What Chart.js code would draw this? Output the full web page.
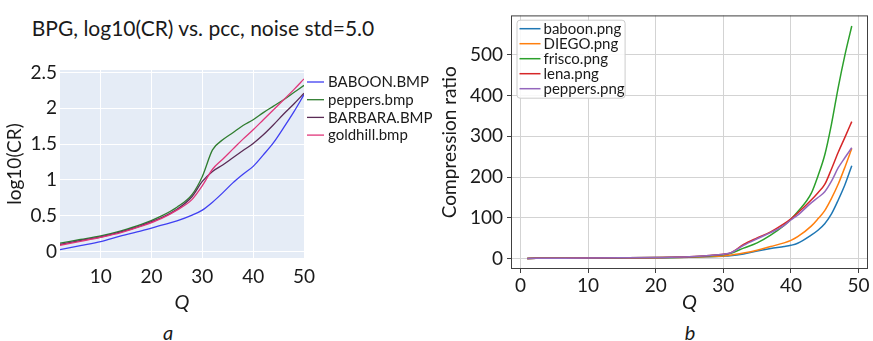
<!DOCTYPE html>
<html>
<head>
<meta charset="utf-8">
<script src="https://cdn.jsdelivr.net/npm/chart.js@4.4.1/dist/chart.umd.min.js"></script>
<style>
  html, body { margin: 0; padding: 0; background: #fff; }
  body { width: 873px; height: 341px; position: relative; overflow: hidden; font-family: Lato, sans-serif; color: #1a1a1a; }
  canvas { position: absolute; top: 0; }
  #left { left: 0; }
  #right { left: 440px; }
  .txt { position: absolute; white-space: nowrap; text-align: center; }
  #title { left: 0; width: 406px; top: 16px; font-size: 21px; line-height: 24px; }
  .cap { top: 320px; width: 40px; font-size: 20px; line-height: 24px; font-style: italic; }
  #capA { left: 148px; }
  #capB { left: 670px; }
</style>
</head>
<body>
<div id="title" class="txt">BPG, log10(CR) vs. pcc, noise std=5.0</div>
<canvas id="left" width="440" height="320"></canvas>
<canvas id="right" width="433" height="320"></canvas>
<div id="capA" class="txt cap">a</div>
<div id="capB" class="txt cap">b</div>
<script>
// (a) BPG, log10(CR) against Q
const qA = [2, 6, 10, 14, 18, 22, 25, 28, 30, 32, 34, 36, 38, 40, 42, 44, 46, 48, 50];
const baboonBmp = [0.03, 0.085, 0.14, 0.22, 0.29, 0.37, 0.43, 0.51, 0.58, 0.69, 0.82, 0.96, 1.08, 1.19, 1.35, 1.52, 1.73, 1.95, 2.19];
const peppersBmp = [0.12, 0.17, 0.22, 0.29, 0.38, 0.50, 0.62, 0.80, 1.05, 1.42, 1.56, 1.66, 1.76, 1.84, 1.94, 2.03, 2.12, 2.22, 2.32];
const barbaraBmp = [0.10, 0.155, 0.205, 0.275, 0.365, 0.475, 0.59, 0.77, 0.98, 1.12, 1.21, 1.31, 1.41, 1.51, 1.63, 1.77, 1.92, 2.06, 2.21];
const goldhillBmp = [0.09, 0.145, 0.20, 0.265, 0.355, 0.465, 0.58, 0.73, 0.92, 1.15, 1.29, 1.43, 1.57, 1.70, 1.84, 1.98, 2.12, 2.26, 2.41];
const xTicksA = [10, 20, 30, 40, 50];
const yTicksA = [0, 0.5, 1, 1.5, 2, 2.5];

// (b) compression ratio against Q
const qB = [1, 5, 10, 15, 20, 25, 28, 30, 31, 33, 35, 37, 39, 40, 41, 43, 44, 45, 46, 47, 48, 49];
const baboonPng = [1.0, 1.2, 1.5, 1.9, 2.5, 3.5, 5.0, 6.5, 7.5, 12, 19, 25, 30, 33, 38, 58, 70, 86, 110, 144, 182, 228];
const diegoPng = [1.0, 1.2, 1.5, 2.0, 2.7, 3.8, 5.5, 7.0, 8.5, 14, 21, 30, 39, 45, 54, 80, 98, 118, 148, 183, 225, 270];
const friscoPng = [1.0, 1.3, 1.6, 2.2, 3.0, 4.5, 7.0, 10, 13, 26, 39, 58, 82, 97, 115, 160, 203, 254, 330, 420, 500, 570];
const lenaPng = [1.0, 1.3, 1.7, 2.3, 3.2, 5.0, 8.0, 11, 14, 35, 51, 66, 86, 98, 112, 144, 162, 182, 220, 261, 298, 336];
const peppersPng = [1.0, 1.3, 1.7, 2.3, 3.2, 5.0, 8.0, 11, 14, 33, 49, 64, 82, 95, 107, 137, 150, 164, 190, 223, 248, 272];
const xTicksB = [0, 10, 20, 30, 40, 50];
const yTicksB = [0, 100, 200, 300, 400, 500];

Chart.defaults.font.family = "Lato, sans-serif";
Chart.defaults.color = "#1a1a1a";

const pts = (xs, ys) => xs.map((x, i) => ({ x, y: ys[i] }));
const fixTicks = (list) => (scale) => {
  scale.ticks = list.map((v) => ({ value: v }));
};

const plotBg = {
  id: "plotBg",
  beforeDraw(chart, args, opts) {
    if (!opts.color) return;
    const { ctx, chartArea: a } = chart;
    ctx.save();
    ctx.fillStyle = opts.color;
    ctx.fillRect(a.left, a.top, a.right - a.left, a.bottom - a.top);
    ctx.restore();
  },
};

// frame round the axes (matplotlib look)
const axesFrame = {
  id: "axesFrame",
  afterDatasetsDraw(chart, args, opts) {
    if (!opts.color) return;
    const { ctx, chartArea: a } = chart;
    ctx.save();
    ctx.strokeStyle = opts.color;
    ctx.lineWidth = 1;
    ctx.strokeRect(a.left + 0.5, a.top + 0.5, a.right - a.left - 1, a.bottom - a.top - 1);
    ctx.restore();
  },
};

// simple line legend, either outside (plotly) or boxed inside (matplotlib)
const lineLegend = {
  id: "lineLegend",
  afterDatasetsDraw(chart, args, o) {
    if (!o.show) return;
    const { ctx, chartArea: a } = chart;
    const sets = chart.data.datasets;
    ctx.save();
    ctx.font = o.size + "px Lato, sans-serif";
    const x0 = a[o.side] + o.dx;
    const y0 = a.top + o.dy;
    if (o.frame) {
      const tw = Math.max(...sets.map((d) => ctx.measureText(d.label).width));
      ctx.beginPath();
      ctx.roundRect(x0 - 2.5, y0 - 8.5, o.text + tw + 3, sets.length * o.step + 3, 3);
      ctx.fillStyle = "rgba(255,255,255,0.85)";
      ctx.fill();
      ctx.strokeStyle = "#cccccc";
      ctx.lineWidth = 1;
      ctx.stroke();
    }
    ctx.textBaseline = "middle";
    sets.forEach((d, i) => {
      const y = y0 + i * o.step;
      ctx.beginPath();
      ctx.moveTo(x0, y);
      ctx.lineTo(x0 + o.line, y);
      ctx.strokeStyle = d.borderColor;
      ctx.lineWidth = d.borderWidth;
      ctx.stroke();
      ctx.fillStyle = "#1a1a1a";
      ctx.fillText(d.label, x0 + o.text, y + 0.5);
    });
    ctx.restore();
  },
};

const lineSet = (label, xs, ys, color, width, order) => ({
  label,
  data: pts(xs, ys),
  borderColor: color,
  backgroundColor: color,
  borderWidth: width,
  pointRadius: 0,
  cubicInterpolationMode: "monotone",
  order,
});

new Chart(document.getElementById("left"), {
  type: "line",
  data: {
    datasets: [
      lineSet("BABOON.BMP", qA, baboonBmp, "#3f3ff2", 1.3, 4),
      lineSet("peppers.bmp", qA, peppersBmp, "#2f7d2f", 1.3, 3),
      lineSet("BARBARA.BMP", qA, barbaraBmp, "#5a2b55", 1.3, 2),
      lineSet("goldhill.bmp", qA, goldhillBmp, "#e0367a", 1.3, 1),
    ],
  },
  options: {
    responsive: false,
    animation: false,
    devicePixelRatio: 1,
    layout: { padding: { top: 70, right: 136, bottom: 0, left: 0 } },
    plugins: {
      plotBg: { color: "#e5ecf6" },
      axesFrame: {},
      lineLegend: { show: true, side: "right", dx: 3, dy: 12, step: 17.7, line: 17, text: 21, size: 15 },
      tooltip: { enabled: false },
      legend: { display: false },
    },
    scales: {
      x: {
        type: "linear",
        min: 2,
        max: 50,
        afterBuildTicks: fixTicks(xTicksA),
        afterFit: (s) => { s.height = 62; },
        grid: { color: "#ffffff", lineWidth: 1, drawTicks: false },
        border: { display: false },
        ticks: { padding: 7, font: { size: 19 } },
        title: { display: true, text: "Q", font: { size: 20, style: "italic" }, padding: { top: 0, bottom: 5 } },
      },
      y: {
        min: -0.088,
        max: 2.534,
        afterBuildTicks: fixTicks(yTicksA),
        afterFit: (s) => { s.width = 60; },
        grid: { color: "#ffffff", lineWidth: 1, drawTicks: false },
        border: { display: false },
        ticks: { padding: 3, font: { size: 19 }, callback: (v) => String(v) },
        title: { display: true, text: "log10(CR)", font: { size: 19 }, padding: { top: 3, bottom: 0 } },
      },
    },
  },
  plugins: [plotBg, axesFrame, lineLegend],
});

new Chart(document.getElementById("right"), {
  type: "line",
  data: {
    datasets: [
      lineSet("baboon.png", qB, baboonPng, "#1f77b4", 1.5, 5),
      lineSet("DIEGO.png", qB, diegoPng, "#ff7f0e", 1.5, 4),
      lineSet("frisco.png", qB, friscoPng, "#2ca02c", 1.5, 3),
      lineSet("lena.png", qB, lenaPng, "#d62728", 1.5, 2),
      lineSet("peppers.png", qB, peppersPng, "#9467bd", 1.5, 1),
    ],
  },
  options: {
    responsive: false,
    animation: false,
    devicePixelRatio: 1,
    layout: { padding: { top: 4, right: 5, bottom: 0, left: 0 } },
    plugins: {
      plotBg: {},
      axesFrame: { color: "#404040" },
      lineLegend: { show: true, frame: true, side: "left", dx: 8.5, dy: 13.3, step: 15, line: 21, text: 24, size: 15 },
      tooltip: { enabled: false },
      legend: { display: false },
    },
    scales: {
      x: {
        type: "linear",
        min: -1.4,
        max: 51.4,
        afterBuildTicks: fixTicks(xTicksB),
        afterFit: (s) => { s.height = 51; },
        grid: { color: "#d3d3d3", lineWidth: 1, tickColor: "#404040", tickLength: 4 },
        border: { display: false },
        ticks: { padding: 1, font: { size: 19 } },
        title: { display: true, text: "Q", font: { size: 20, style: "italic" }, padding: { top: 0, bottom: 5 } },
      },
      y: {
        min: -25,
        max: 596,
        afterBuildTicks: fixTicks(yTicksB),
        afterFit: (s) => { s.width = 71; },
        grid: { color: "#d3d3d3", lineWidth: 1, tickColor: "#404040", tickLength: 4 },
        border: { display: false },
        ticks: { padding: 4, font: { size: 19 } },
        title: { display: true, text: "Compression ratio", font: { size: 19, lineHeight: 1 }, padding: { top: 0.5, bottom: 0 } },
      },
    },
  },
  plugins: [plotBg, axesFrame, lineLegend],
});
</script>
</body>
</html>
